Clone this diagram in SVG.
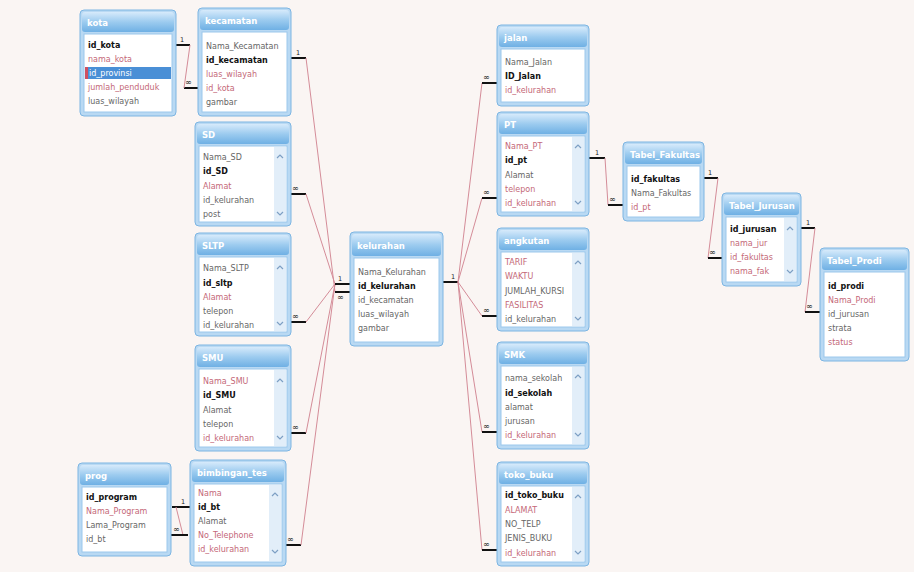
<svg xmlns="http://www.w3.org/2000/svg" width="914" height="572" viewBox="0 0 914 572">
<defs>
<linearGradient id="tg" x1="0" y1="0" x2="0" y2="1">
<stop offset="0" stop-color="#d6eafb"/><stop offset="0.5" stop-color="#9ccbef"/><stop offset="1" stop-color="#6fb0e4"/>
</linearGradient>
<clipPath id="cf"><rect x="625" y="144" width="75" height="20"/></clipPath>
<clipPath id="cj"><rect x="724" y="195" width="73" height="20"/></clipPath>
<style>
.frame{fill:#b9d9f3;stroke:#7db5e2;stroke-width:1}
.ttl{fill:url(#tg)}
.body{fill:#ffffff;stroke:#9cc8ec;stroke-width:1}
.tt{font-family:"DejaVu Sans",sans-serif;font-size:8.5px;fill:#ffffff;font-weight:bold}
.f{font-family:"DejaVu Sans",sans-serif;font-size:8px;fill:#666666}
.p{font-family:"DejaVu Sans",sans-serif;font-size:8px;fill:#c46878}
.k{font-family:"DejaVu Sans",sans-serif;font-size:8px;fill:#111111;font-weight:bold}
.sb{fill:#e2eef9}
.ar{fill:none;stroke:#7d9fc4;stroke-width:1.2}
.stub{stroke:#111111;stroke-width:2}
.rel{stroke:#d48c98;stroke-width:1;fill:none}
.lbl{font-family:"DejaVu Sans",sans-serif;font-size:6.5px;fill:#222222}
.inf{font-family:"DejaVu Sans",sans-serif;font-size:8px;fill:#222222}
</style>
</defs>
<rect width="914" height="572" fill="#faf5f3"/>

<g id="connectors">
<line class="stub" x1="176" y1="45" x2="190" y2="45"/><text class="lbl" x="180" y="42">1</text>
<line class="stub" x1="184" y1="88" x2="198" y2="88"/><text class="inf" x="185" y="85">∞</text>
<line class="rel" x1="190" y1="45" x2="184" y2="88"/>
<line class="stub" x1="291" y1="58" x2="306" y2="58"/><text class="lbl" x="296" y="55">1</text>
<line class="rel" x1="306" y1="58" x2="335" y2="292"/>
<line class="stub" x1="291" y1="194" x2="306" y2="194"/><text class="inf" x="292" y="191">∞</text>
<line class="rel" x1="306" y1="194" x2="335" y2="284"/>
<line class="stub" x1="291" y1="322" x2="306" y2="322"/><text class="inf" x="292" y="319">∞</text>
<line class="rel" x1="306" y1="322" x2="335" y2="284"/>
<line class="stub" x1="291" y1="433" x2="306" y2="433"/><text class="inf" x="292" y="430">∞</text>
<line class="rel" x1="306" y1="433" x2="335" y2="284"/>
<line class="stub" x1="286" y1="545" x2="301" y2="545"/><text class="inf" x="287" y="542">∞</text>
<line class="rel" x1="301" y1="545" x2="335" y2="284"/>
<line class="stub" x1="335" y1="284" x2="350" y2="284"/><text class="lbl" x="338" y="281">1</text>
<line class="stub" x1="335" y1="292" x2="350" y2="292"/><text class="inf" x="337" y="300">∞</text>
<line class="stub" x1="443" y1="282" x2="458" y2="282"/><text class="lbl" x="451" y="279">1</text>
<line class="rel" x1="458" y1="282" x2="482" y2="83"/>
<line class="rel" x1="458" y1="282" x2="482" y2="198"/>
<line class="rel" x1="458" y1="282" x2="482" y2="316"/>
<line class="rel" x1="458" y1="282" x2="482" y2="432"/>
<line class="rel" x1="458" y1="282" x2="482" y2="550"/>
<line class="stub" x1="482" y1="83" x2="497" y2="83"/><text class="inf" x="483" y="80">∞</text>
<line class="stub" x1="482" y1="198" x2="497" y2="198"/><text class="inf" x="483" y="195">∞</text>
<line class="stub" x1="482" y1="316" x2="497" y2="316"/><text class="inf" x="483" y="313">∞</text>
<line class="stub" x1="482" y1="432" x2="497" y2="432"/><text class="inf" x="483" y="429">∞</text>
<line class="stub" x1="482" y1="550" x2="497" y2="550"/><text class="inf" x="483" y="547">∞</text>
<line class="stub" x1="589" y1="158" x2="605" y2="158"/><text class="lbl" x="595" y="155">1</text>
<line class="rel" x1="605" y1="158" x2="608" y2="205"/>
<line class="stub" x1="608" y1="205" x2="623" y2="205"/><text class="inf" x="609" y="202">∞</text>
<line class="stub" x1="704" y1="178" x2="718" y2="178"/><text class="lbl" x="708" y="175">1</text>
<line class="rel" x1="718" y1="178" x2="708" y2="258"/>
<line class="stub" x1="708" y1="258" x2="722" y2="258"/><text class="inf" x="709" y="255">∞</text>
<line class="stub" x1="801" y1="228" x2="815" y2="228"/><text class="lbl" x="806" y="225">1</text>
<line class="rel" x1="815" y1="228" x2="805" y2="312"/>
<line class="stub" x1="805" y1="312" x2="820" y2="312"/><text class="inf" x="806" y="309">∞</text>
<line class="stub" x1="172" y1="507" x2="190" y2="507"/><text class="lbl" x="181" y="504">1</text>
<line class="rel" x1="176" y1="507" x2="183" y2="535"/>
<line class="stub" x1="171" y1="535" x2="188" y2="535"/><text class="inf" x="173" y="532">∞</text>
</g>

<g id="kota">
<rect class="frame" x="80" y="10" width="96" height="106" rx="4"/>
<rect class="ttl" x="82" y="12" width="92" height="20" rx="3"/>
<text class="tt" x="87" y="26">kota</text>
<rect class="body" x="84" y="34" width="88" height="78"/>
<text class="k" x="88" y="48">id_kota</text>
<text class="p" x="88" y="62">nama_kota</text>
<rect x="85" y="67" width="86" height="12" fill="#4a8fd6"/>
<rect x="85" y="67" width="3" height="12" fill="#d05060"/>
<text class="f" x="89" y="76" style="fill:#ffffff">id_provinsi</text>
<text class="p" x="88" y="90">jumlah_penduduk</text>
<text class="f" x="88" y="104">luas_wilayah</text>
</g>

<g id="kecamatan">
<rect class="frame" x="198" y="8" width="93" height="108" rx="4"/>
<rect class="ttl" x="200" y="10" width="89" height="20" rx="3"/>
<text class="tt" x="205" y="24">kecamatan</text>
<rect class="body" x="202" y="32" width="85" height="80"/>
<text class="f" x="206" y="49">Nama_Kecamatan</text>
<text class="k" x="206" y="63">id_kecamatan</text>
<text class="p" x="206" y="77">luas_wilayah</text>
<text class="p" x="206" y="91">id_kota</text>
<text class="f" x="206" y="105">gambar</text>
</g>

<g id="sd">
<rect class="frame" x="195" y="122" width="96" height="104" rx="4"/>
<rect class="ttl" x="197" y="124" width="92" height="20" rx="3"/>
<text class="tt" x="202" y="138">SD</text>
<rect class="body" x="199" y="146" width="88" height="76"/>
<rect class="sb" x="274" y="147" width="12" height="74"/>
<path class="ar" d="M277 158 L280 155 L283 158"/><path class="ar" d="M277 212 L280 215 L283 212"/>
<text class="f" x="203" y="160">Nama_SD</text>
<text class="k" x="203" y="174">id_SD</text>
<text class="p" x="203" y="189">Alamat</text>
<text class="f" x="203" y="203">id_kelurahan</text>
<text class="f" x="203" y="217">post</text>
</g>

<g id="sltp">
<rect class="frame" x="195" y="233" width="96" height="103" rx="4"/>
<rect class="ttl" x="197" y="235" width="92" height="20" rx="3"/>
<text class="tt" x="202" y="249">SLTP</text>
<rect class="body" x="199" y="257" width="88" height="75"/>
<rect class="sb" x="274" y="258" width="12" height="73"/>
<path class="ar" d="M277 269 L280 266 L283 269"/><path class="ar" d="M277 322 L280 325 L283 322"/>
<text class="f" x="203" y="271">Nama_SLTP</text>
<text class="k" x="203" y="286">id_sltp</text>
<text class="p" x="203" y="300">Alamat</text>
<text class="f" x="203" y="314">telepon</text>
<text class="f" x="203" y="328">id_kelurahan</text>
</g>

<g id="smu">
<rect class="frame" x="195" y="345" width="96" height="106" rx="4"/>
<rect class="ttl" x="197" y="347" width="92" height="20" rx="3"/>
<text class="tt" x="202" y="361">SMU</text>
<rect class="body" x="199" y="369" width="88" height="78"/>
<rect class="sb" x="274" y="370" width="12" height="76"/>
<path class="ar" d="M277 382 L280 379 L283 382"/><path class="ar" d="M277 436 L280 439 L283 436"/>
<text class="p" x="203" y="384">Nama_SMU</text>
<text class="k" x="203" y="398">id_SMU</text>
<text class="f" x="203" y="413">Alamat</text>
<text class="f" x="203" y="427">telepon</text>
<text class="p" x="203" y="441">id_kelurahan</text>
</g>

<g id="prog">
<rect class="frame" x="78" y="463" width="93" height="93" rx="4"/>
<rect class="ttl" x="80" y="465" width="89" height="20" rx="3"/>
<text class="tt" x="85" y="479">prog</text>
<rect class="body" x="82" y="487" width="85" height="65"/>
<text class="k" x="86" y="500">id_program</text>
<text class="p" x="86" y="514">Nama_Program</text>
<text class="f" x="86" y="528">Lama_Program</text>
<text class="f" x="86" y="542">id_bt</text>
</g>

<g id="bimbingan">
<rect class="frame" x="190" y="460" width="96" height="106" rx="4"/>
<rect class="ttl" x="192" y="462" width="92" height="20" rx="3"/>
<text class="tt" x="197" y="476">bimbingan_tes</text>
<rect class="body" x="194" y="484" width="88" height="78"/>
<rect class="sb" x="269" y="485" width="12" height="76"/>
<path class="ar" d="M272 496 L275 493 L278 496"/><path class="ar" d="M272 550 L275 553 L278 550"/>
<text class="p" x="198" y="496">Nama</text>
<text class="k" x="198" y="510">id_bt</text>
<text class="f" x="198" y="524">Alamat</text>
<text class="p" x="198" y="538">No_Telephone</text>
<text class="p" x="198" y="552">id_kelurahan</text>
</g>

<g id="kelurahan">
<rect class="frame" x="350" y="232" width="93" height="114" rx="4"/>
<rect class="ttl" x="352" y="234" width="89" height="22" rx="3"/>
<text class="tt" x="357" y="249">kelurahan</text>
<rect class="body" x="354" y="258" width="85" height="84"/>
<text class="f" x="358" y="275">Nama_Kelurahan</text>
<text class="k" x="358" y="289">id_kelurahan</text>
<text class="f" x="358" y="303">id_kecamatan</text>
<text class="f" x="358" y="317">luas_wilayah</text>
<text class="f" x="358" y="331">gambar</text>
</g>

<g id="jalan">
<rect class="frame" x="497" y="25" width="92" height="81" rx="4"/>
<rect class="ttl" x="499" y="27" width="88" height="20" rx="3"/>
<text class="tt" x="504" y="41">jalan</text>
<rect class="body" x="501" y="49" width="84" height="53"/>
<text class="f" x="505" y="65">Nama_Jalan</text>
<text class="k" x="505" y="79">ID_Jalan</text>
<text class="p" x="505" y="93">id_kelurahan</text>
</g>

<g id="pt">
<rect class="frame" x="497" y="112" width="92" height="104" rx="4"/>
<rect class="ttl" x="499" y="114" width="88" height="20" rx="3"/>
<text class="tt" x="504" y="128">PT</text>
<rect class="body" x="501" y="136" width="84" height="76"/>
<rect class="sb" x="572" y="137" width="12" height="74"/>
<path class="ar" d="M575 148 L578 145 L581 148"/><path class="ar" d="M575 201 L578 204 L581 201"/>
<text class="p" x="505" y="149">Nama_PT</text>
<text class="k" x="505" y="163">id_pt</text>
<text class="f" x="505" y="178">Alamat</text>
<text class="p" x="505" y="192">telepon</text>
<text class="p" x="505" y="206">id_kelurahan</text>
</g>

<g id="angkutan">
<rect class="frame" x="497" y="228" width="92" height="103" rx="4"/>
<rect class="ttl" x="499" y="230" width="88" height="20" rx="3"/>
<text class="tt" x="504" y="244">angkutan</text>
<rect class="body" x="501" y="252" width="84" height="75"/>
<rect class="sb" x="572" y="253" width="12" height="73"/>
<path class="ar" d="M575 264 L578 261 L581 264"/><path class="ar" d="M575 317 L578 320 L581 317"/>
<text class="p" x="505" y="265">TARIF</text>
<text class="p" x="505" y="279">WAKTU</text>
<text class="f" x="505" y="294">JUMLAH_KURSI</text>
<text class="p" x="505" y="308">FASILITAS</text>
<text class="f" x="505" y="322">id_kelurahan</text>
</g>

<g id="smk">
<rect class="frame" x="497" y="342" width="92" height="107" rx="4"/>
<rect class="ttl" x="499" y="344" width="88" height="20" rx="3"/>
<text class="tt" x="504" y="358">SMK</text>
<rect class="body" x="501" y="366" width="84" height="79"/>
<rect class="sb" x="572" y="367" width="12" height="77"/>
<path class="ar" d="M575 378 L578 375 L581 378"/><path class="ar" d="M575 433 L578 436 L581 433"/>
<text class="f" x="505" y="381">nama_sekolah</text>
<text class="k" x="505" y="396">id_sekolah</text>
<text class="f" x="505" y="410">alamat</text>
<text class="f" x="505" y="424">jurusan</text>
<text class="p" x="505" y="438">id_kelurahan</text>
</g>

<g id="toko_buku">
<rect class="frame" x="497" y="462" width="92" height="104" rx="4"/>
<rect class="ttl" x="499" y="464" width="88" height="20" rx="3"/>
<text class="tt" x="504" y="478">toko_buku</text>
<rect class="body" x="501" y="486" width="84" height="76"/>
<rect class="sb" x="572" y="487" width="12" height="74"/>
<path class="ar" d="M575 498 L578 495 L581 498"/><path class="ar" d="M575 551 L578 554 L581 551"/>
<text class="k" x="505" y="498">id_toko_buku</text>
<text class="p" x="505" y="513">ALAMAT</text>
<text class="f" x="505" y="527">NO_TELP</text>
<text class="f" x="505" y="541">JENIS_BUKU</text>
<text class="p" x="505" y="556">id_kelurahan</text>
</g>

<g id="fakultas">
<rect class="frame" x="623" y="142" width="81" height="79" rx="4"/>
<rect class="ttl" x="625" y="144" width="77" height="20" rx="3"/>
<text class="tt" x="630" y="158" clip-path="url(#cf)">Tabel_Fakultas</text>
<rect class="body" x="627" y="166" width="73" height="51"/>
<text class="k" x="631" y="182">id_fakultas</text>
<text class="f" x="631" y="196">Nama_Fakultas</text>
<text class="p" x="631" y="210">id_pt</text>
</g>

<g id="jurusan">
<rect class="frame" x="722" y="193" width="79" height="93" rx="4"/>
<rect class="ttl" x="724" y="195" width="75" height="20" rx="3"/>
<text class="tt" x="729" y="209" clip-path="url(#cj)">Tabel_Jurusan</text>
<rect class="body" x="726" y="217" width="71" height="65"/>
<rect class="sb" x="784" y="218" width="12" height="63"/>
<path class="ar" d="M787 230 L790 227 L793 230"/><path class="ar" d="M787 270 L790 273 L793 270"/>
<text class="k" x="730" y="232">id_jurusan</text>
<text class="p" x="730" y="246">nama_jur</text>
<text class="p" x="730" y="260">id_fakultas</text>
<text class="p" x="730" y="274">nama_fak</text>
</g>

<g id="prodi">
<rect class="frame" x="820" y="248" width="89" height="113" rx="4"/>
<rect class="ttl" x="822" y="250" width="85" height="20" rx="3"/>
<text class="tt" x="827" y="264">Tabel_Prodi</text>
<rect class="body" x="824" y="272" width="81" height="85"/>
<text class="k" x="828" y="289">id_prodi</text>
<text class="p" x="828" y="303">Nama_Prodi</text>
<text class="f" x="828" y="317">id_jurusan</text>
<text class="f" x="828" y="331">strata</text>
<text class="p" x="828" y="345">status</text>
</g>
</svg>
